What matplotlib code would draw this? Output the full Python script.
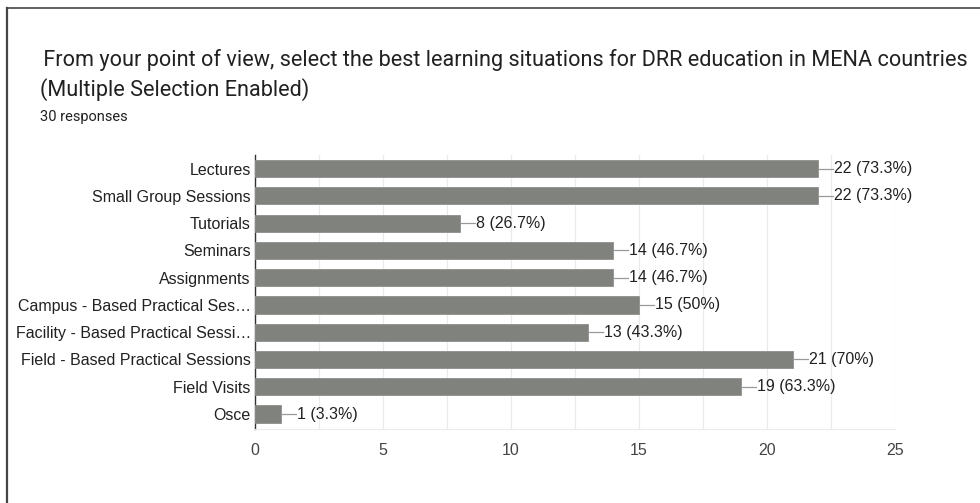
import matplotlib
matplotlib.use("Agg")
import matplotlib.pyplot as plt
from matplotlib.lines import Line2D

categories = ["Lectures", "Small Group Sessions", "Tutorials", "Seminars", "Assignments",
              "Campus - Based Practical Ses\u2026", "Facility - Based Practical Sessi\u2026",
              "Field - Based Practical Sessions", "Field Visits", "Osce"]
counts = [22, 22, 8, 14, 14, 15, 13, 21, 19, 1]
percent_labels = ["73.3%", "73.3%", "26.7%", "46.7%", "46.7%", "50%", "43.3%", "70%", "63.3%", "3.3%"]
x_ticks = [0, 5, 10, 15, 20, 25]

W, H = 980, 503
fig = plt.figure(figsize=(W / 100, H / 100), dpi=100)
fig.patch.set_facecolor("white")

# partial frame (top and left)
fig.add_artist(Line2D([7 / W, 7 / W], [0, 1 - 8 / H], transform=fig.transFigure, color="#444444", lw=1.6))
fig.add_artist(Line2D([7 / W, 1], [1 - 8 / H, 1 - 8 / H], transform=fig.transFigure, color="#444444", lw=1.2))

txt = "#212121"
fig.text(38 / W, 1 - 60 / H, " From your point of view, select the best learning situations for DRR education in MENA countries",
         fontsize=15.6, family="Roboto", color=txt, va="center", ha="left")
fig.text(40 / W, 1 - 90 / H, "(Multiple Selection Enabled)", fontsize=15.6, family="Roboto", color=txt,
         va="center", ha="left")
fig.text(40 / W, 1 - 117 / H, "30 responses", fontsize=10.5, family="Roboto", color=txt, va="center", ha="left")

left, right, top, bottom = 255, 895, 155, 429
ax = fig.add_axes([left / W, 1 - bottom / H, (right - left) / W, (bottom - top) / H])
y = list(range(len(categories)))
ax.barh(y, counts, height=0.63, color="#80827e", edgecolor="#8e908c", linewidth=0.6, zorder=3)
ax.set_ylim(len(categories) - 0.45, -0.5)
ax.set_xlim(0, 25)
ax.set_yticks(y)
ax.set_yticklabels(categories, fontsize=11.5, family="Liberation Sans", color=txt)
ax.set_xticks(x_ticks)
ax.set_xticklabels([str(t) for t in x_ticks], fontsize=11.5, family="Liberation Sans", color="#444444")
ax.set_xticks([2.5, 7.5, 12.5, 17.5, 22.5], minor=True)
ax.grid(axis="x", which="both", color="#ebebeb", lw=0.9, zorder=0)
ax.tick_params(axis="both", which="both", length=0, pad=3)
ax.tick_params(axis="x", pad=10)
for s in ["top", "right"]:
    ax.spines[s].set_visible(False)
ax.spines["bottom"].set_color("#ebebeb")
ax.spines["left"].set_color("#333333")
ax.spines["left"].set_linewidth(1.0)

unit = (right - left) / 25.0
for yi, c, p in zip(y, counts, percent_labels):
    ax.plot([c, c + 15 / unit], [yi, yi], color="#999999", lw=0.9, zorder=4, clip_on=False)
    ax.text(c + 16 / unit, yi, f"{c} ({p})", fontsize=11.5, family="Liberation Sans", color=txt,
            va="center", ha="left", zorder=5)

fig.savefig("out.png", dpi=100, facecolor="white")
